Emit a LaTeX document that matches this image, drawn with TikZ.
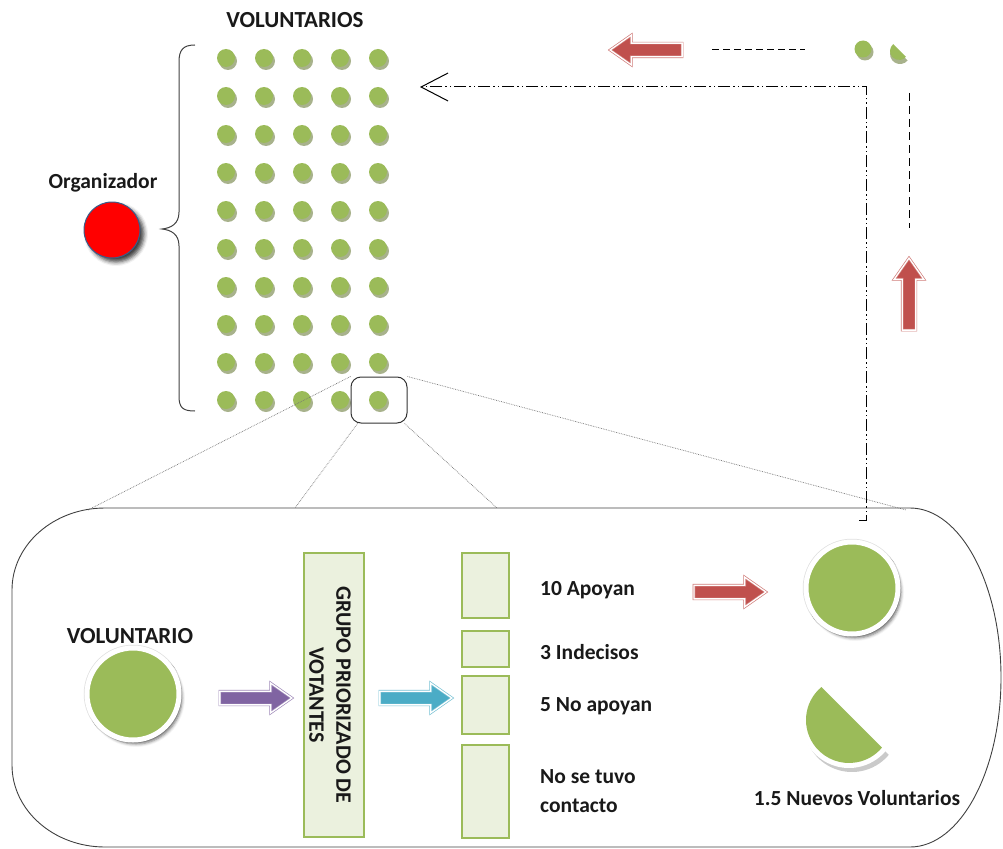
\documentclass[tikz,border=0pt]{standalone}
\usepackage{fontspec}
\setmainfont{Carlito}
\usetikzlibrary{shapes.arrows,arrows.meta,shadows,shadows.blur,calc}

\definecolor{leafgreen}{RGB}{155,187,89}
\definecolor{leafshadow}{RGB}{168,178,140}
\definecolor{palegreen}{RGB}{235,241,222}
\definecolor{arrowred}{RGB}{192,80,77}
\definecolor{arrowpurple}{RGB}{128,100,162}
\definecolor{arrowblue}{RGB}{75,172,198}
\definecolor{inkgray}{RGB}{25,25,25}
\definecolor{rimblue}{RGB}{56,93,138}

\tikzset{
  lbl/.style={font=\bfseries\fontsize{21.5}{26}\selectfont, text=inkgray, inner sep=0pt},
  caplbl/.style={lbl, font=\bfseries\fontsize{23}{27}\selectfont},
  dot/.style={circle, fill=leafgreen, minimum size=18pt, inner sep=0pt,
    drop shadow={shadow xshift=2pt, shadow yshift=-3pt, fill=leafshadow, opacity=1}},
  bigdot/.style={circle, fill=leafgreen, minimum size=92pt, inner sep=0pt,
    draw=white, line width=5pt,
    preaction={draw=black!12, line width=6.5pt},
    blur shadow={shadow xshift=3pt, shadow yshift=-4pt, shadow blur radius=3pt, shadow opacity=55}},
  blockarrow/.style={single arrow, minimum height=72pt, minimum width=29pt,
    inner sep=6.5pt, single arrow head extend=8pt, single arrow tip angle=70,
    single arrow head indent=0pt, line width=0.7pt, double=white, double distance=1.3pt},
  tallybox/.style={draw=leafgreen, fill=palegreen, line width=1.2pt, inner sep=0pt},
  dashdot/.style={line width=1pt, dash pattern=on 12pt off 3pt on 1.5pt off 3pt on 1.5pt off 3pt},
  guide/.style={densely dotted, line width=0.7pt, black!55}
}

\begin{document}
\begin{tikzpicture}[x=1pt,y=1pt]
\useasboundingbox (0,0) rectangle (1003,-848);

% grid of volunteers
\foreach \r in {0,...,9}{
  \foreach \c in {0,...,4}{
    \node[dot] (v-\r-\c) at ({226+38*\c},{-58-38*\r}) {};
  }
}
\node[caplbl] (title) at (295,-20) {VOLUNTARIOS};

% brace
\draw[black!75, line width=1pt]
  (195,-45) .. controls (183,-45) and (179,-50) .. (179,-62) -- (179,-212)
  .. controls (179,-224) and (171,-228) .. (162,-229)
  .. controls (171,-230) and (179,-234) .. (179,-246) -- (179,-396)
  .. controls (179,-408) and (183,-411) .. (195,-411);

% organizer
\node[lbl] (orgtxt) at (103,-183) {Organizador};
\node[circle, fill=red, draw=rimblue, line width=1pt, minimum size=56pt, inner sep=0pt,
  blur shadow={shadow xshift=4pt, shadow yshift=-4pt, shadow blur radius=4pt, shadow opacity=75}]
  (org) at (112,-230) {};

% magnified volunteer
\node[draw=black!80, line width=1pt, rounded corners=10pt, minimum width=56pt, minimum height=46pt, inner sep=0pt]
  (zoombox) at (379,-400) {};

% enlarged panel
\draw[black!75, line width=0.9pt]
  (105,-508) -- (910,-508) arc[start angle=90, end angle=-90, x radius=91, y radius=169.5]
  -- (105,-847) arc[start angle=270, end angle=180, x radius=93, y radius=82]
  -- (12,-590) arc[start angle=180, end angle=90, x radius=93, y radius=82] -- cycle;

\coordinate (e1) at (88,-510);
\coordinate (e2) at (906,-510);
\coordinate (e3) at (295,-508);
\coordinate (e4) at (497,-508);
\draw[guide] (zoombox.north west) -- (e1);
\draw[guide] (zoombox.north east) -- (e2);
\draw[guide] ($(zoombox.south west)+(7,0)$) -- (e3);
\draw[guide] ($(zoombox.south east)+(-3,0)$) -- (e4);

% volunteer
\node[caplbl] (voltxt) at (130,-636) {VOLUNTARIO};
\node[bigdot] (vol) at (133,-694) {};

\node[blockarrow, draw=arrowpurple!75, fill=arrowpurple] (a1) at (251,-698) {};

\node[tallybox, minimum width=60pt, minimum height=284pt] (grupo) at (334,-695) {};
\node[lbl, rotate=-90, align=center, font=\bfseries\fontsize{22}{27}\selectfont] (grupotxt) at (330,-695)
  {GRUPO PRIORIZADO DE\\VOTANTES};

\node[blockarrow, draw=arrowblue!75, fill=arrowblue] (a2) at (411,-698) {};

% tally of contacts
\node[tallybox, minimum width=47pt, minimum height=65pt] (t1) at (485.5,-585.5) {};
\node[tallybox, minimum width=47pt, minimum height=36pt] (t2) at (485.5,-649) {};
\node[tallybox, minimum width=47pt, minimum height=58pt] (t3) at (485.5,-705) {};
\node[tallybox, minimum width=47pt, minimum height=93pt] (t4) at (485.5,-791.5) {};

\node[lbl, anchor=west] (l1) at (540,-590) {10 Apoyan};
\node[lbl, anchor=west] (l2) at (540,-652) {3 Indecisos};
\node[lbl, anchor=west] (l3) at (540,-706) {5 No apoyan};
\node[lbl, anchor=west, align=left, font=\bfseries\fontsize{21.5}{29}\selectfont] (l4) at (540,-791) {No se tuvo\\contacto};

\node[blockarrow, draw=arrowred!75, fill=arrowred] (a3) at (725,-592) {};

% new volunteers
\node[bigdot] (newvol) at (852,-588) {};
\fill[black!35, opacity=0.6] ($(849,-720)+(3,-4)$) ++(130:48) arc[start angle=130, end angle=320, radius=48] -- cycle;
\fill[white] (849,-720) ++(130:48) arc[start angle=130, end angle=320, radius=48] -- cycle;
\fill[leafgreen] (849,-720) ++(130:43) arc[start angle=130, end angle=320, radius=43] -- cycle;
\coordinate (halfvol) at (849,-720);
\node[lbl] (newtxt) at (857,-798) {1.5 Nuevos Voluntarios};

% feedback loop
\coordinate (hook) at (859,-520);
\coordinate (loopbot) at (866,-520);
\coordinate (looptop) at (866,-87);
\coordinate (loopend) at (420,-87);
\draw[dashdot, -{Straight Barb[length=27pt, width=28pt, line width=1pt]}]
  (hook) -- (loopbot) -- (looptop) -- (loopend);

\node[blockarrow, draw=arrowred!75, fill=arrowred, rotate=90] (a4) at (909,-299) {};
\coordinate (rt1) at (909,-93);
\coordinate (rt2) at (909,-228);
\draw[line width=1pt, dash pattern=on 8pt off 5pt] (rt1) -- (rt2);

\node[dot, minimum size=17pt] (mini) at (863,-49) {};
\fill[leafshadow] ($(899,-51)+(1,-3)$) ++(130:10) arc[start angle=130, end angle=320, radius=10] -- cycle;
\fill[leafgreen] (899,-51) ++(130:9) arc[start angle=130, end angle=320, radius=9] -- cycle;
\coordinate (minihalf) at (899,-51);

\coordinate (td1) at (712,-50);
\coordinate (td2) at (805,-50);
\draw[line width=1pt, dash pattern=on 7pt off 4pt] (td1) -- (td2);
\node[blockarrow, draw=arrowred!75, fill=arrowred, rotate=180] (a5) at (651,-50) {};

\end{tikzpicture}
\end{document}
